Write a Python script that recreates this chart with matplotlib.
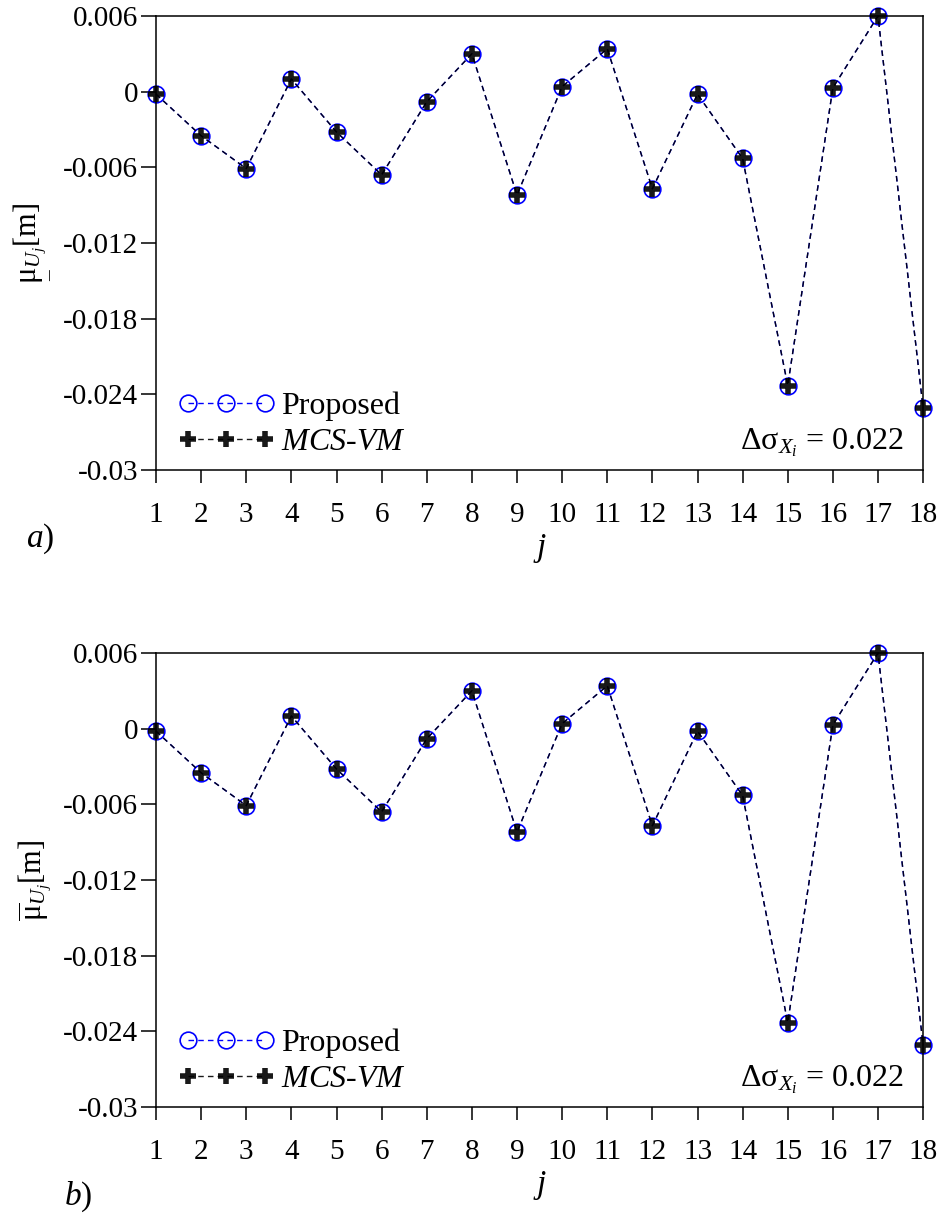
import matplotlib
matplotlib.use("Agg")
import matplotlib.pyplot as plt

plt.rcParams['font.family'] = ['Liberation Serif', 'DejaVu Serif']
plt.rcParams['mathtext.fontset'] = 'custom'
plt.rcParams['mathtext.rm'] = 'Liberation Serif'
plt.rcParams['mathtext.it'] = 'Liberation Serif:italic'

j = list(range(1, 19))
proposed = [-0.0002, -0.0035, -0.0061, 0.0010, -0.0032, -0.0066, -0.0008, 0.0030, -0.0082,
            0.0004, 0.0034, -0.0077, -0.0002, -0.0053, -0.0233, 0.0003, 0.0060, -0.0251]
mcs_vm = [-0.0002, -0.0035, -0.0061, 0.0010, -0.0032, -0.0066, -0.0008, 0.0030, -0.0082,
          0.0004, 0.0034, -0.0077, -0.0002, -0.0053, -0.0233, 0.0003, 0.0060, -0.0251]
yticks = [0.006, 0, -0.006, -0.012, -0.018, -0.024, -0.03]
ytick_labels = ["0.006", "0", "-0.006", "-0.012", "-0.018", "-0.024", "-0.03"]

fig = plt.figure(figsize=(9.41, 12.18), dpi=100)
ax_a = fig.add_axes([0.1658, 0.6141, 0.8152, 0.3728])
ax_b = fig.add_axes([0.1658, 0.0911, 0.8152, 0.3728])

panels = [(ax_a, r"$\underset{\_}{\mathrm{\mu}}_{U_j}$[m]"), (ax_b, r"$\overline{\mathrm{\mu}}_{U_j}$[m]")]

for ax, ylab in panels:
    ax.plot(j, proposed, "o", linestyle="--", dashes=(4, 3), color="blue", markerfacecolor="none",
            markersize=12, markeredgewidth=1.2, linewidth=1.0, label="Proposed", clip_on=False)
    ax.plot(j, mcs_vm, "+", linestyle="--", dashes=(4, 3), color="black",
            markersize=11, markeredgewidth=4, linewidth=1.0, label="$MCS$-$VM$", clip_on=False, alpha=0.9)
    ax.set_xlim(1, 18)
    ax.set_ylim(-0.03, 0.006)
    ax.set_xticks(j)
    ax.set_yticks(yticks)
    ax.set_yticklabels(ytick_labels)
    ax.tick_params(axis="x", direction="out", length=9, width=1.1, pad=14, labelsize=21)
    ax.tick_params(axis="y", direction="out", length=11, width=1.1, pad=2, labelsize=21)
    for s in ax.spines.values():
        s.set_linewidth(1.1)
    ax.set_ylabel(ylab, fontsize=22, labelpad=6)
    ax.set_xlabel("$j$", fontsize=24, labelpad=3)
    ax.legend(loc="lower left", bbox_to_anchor=(0.0, -0.02), frameon=False, numpoints=3,
              fontsize=23, handlelength=3.0, handletextpad=0.2, labelspacing=0.2,
              borderaxespad=0.3)
    ax.text(0.975, 0.025, "Δσ$_{X_i}$ = 0.022", transform=ax.transAxes, ha="right", va="bottom",
            fontsize=23)

ax_a.text(-0.17, -0.17, "$a)$", transform=ax_a.transAxes, fontsize=24)
ax_b.text(-0.12, -0.215, "$b)$", transform=ax_b.transAxes, fontsize=24)

fig.savefig("out.png", dpi=100)
